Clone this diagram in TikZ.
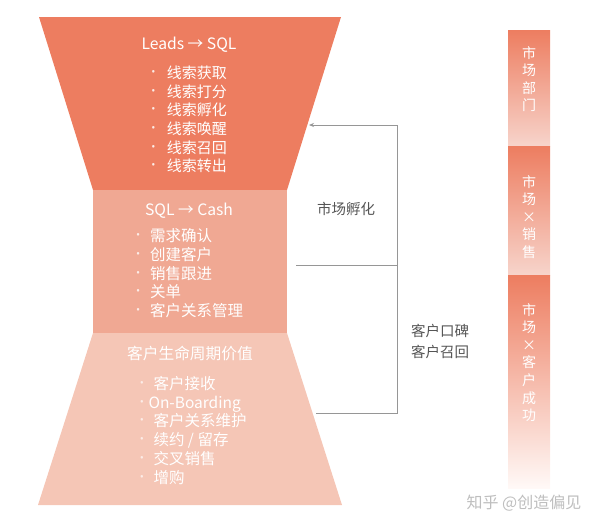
\documentclass[tikz,border=0pt]{standalone}
\usepackage{fontspec}
\setmainfont{Noto Sans CJK SC}
\newfontfamily\latinf{Noto Sans}
\usetikzlibrary{arrows.meta}
\definecolor{ctop}{RGB}{237,125,96}
\definecolor{cmid}{RGB}{240,168,147}
\definecolor{cbot}{RGB}{245,198,182}
\definecolor{cline}{RGB}{150,150,150}
\definecolor{clab}{RGB}{85,85,85}
\definecolor{cbarlow}{RGB}{247,212,203}
\definecolor{cbarwhite}{RGB}{255,249,247}
\definecolor{cwm}{RGB}{190,190,190}
\newcommand\bul[1]{\makebox[0pt][c]{\latinf\fontsize{19}{19}\selectfont\color{white!85!ctop}·}\hspace{#1}}
\begin{document}
\begin{tikzpicture}[x=1pt,y=-1pt,
  title/.style={text=white,inner sep=0pt,font=\fontsize{15.7}{18}\selectfont},
  item/.style={text=white,inner sep=0pt,anchor=west,text height=11.5pt,text depth=1.5pt,font=\fontsize{15}{18}\selectfont},
  itemb/.style={item,font=\fontsize{15.5}{18}\selectfont},
  lab/.style={text=clab,inner sep=0pt,font=\fontsize{14.5}{21}\selectfont,align=center},
  conn/.style={draw=cline,line width=0.8pt},
  vtext/.style={text=white,inner sep=0pt,anchor=north,align=center,font=\fontsize{14}{17.6}\selectfont}]
\useasboundingbox (0,0) rectangle (606,528);
% funnel shapes
\fill[ctop] (39,17) -- (341,17) -- (287,190) -- (93,190) -- cycle;
\fill[cmid] (93,190) rectangle (287,333);
\fill[cbot] (93,333) -- (287,333) -- (342,505) -- (38,505) -- cycle;
% top section
\node[title] (t1) at (189,45) {Leads → SQL};
\node[item] (a1) at (153.3,73.3) {\bul{13.4pt}线索获取};
\node[item] (a2) at (153.3,92) {\bul{13.4pt}线索打分};
\node[item] (a3) at (153.3,110.7) {\bul{13.4pt}线索孵化};
\node[item] (a4) at (153.3,129.4) {\bul{13.4pt}线索唤醒};
\node[item] (a5) at (153.3,148.1) {\bul{13.4pt}线索召回};
\node[item] (a6) at (153.3,166.8) {\bul{13.4pt}线索转出};
% middle section
\node[title] (t2) at (189,211) {SQL → Cash};
\node[itemb] (b1) at (138,236.7) {\bul{12pt}需求确认};
\node[itemb] (b2) at (138,255.4) {\bul{12pt}创建客户};
\node[itemb] (b3) at (138,274.1) {\bul{12pt}销售跟进};
\node[itemb] (b4) at (138,292.8) {\bul{12pt}关单};
\node[itemb] (b5) at (138,311.5) {\bul{12pt}客户关系管理};
% bottom section
\node[title] (t3) at (190,353.5) {客户生命周期价值};
\node[itemb] (d1) at (141.7,384.5) {\bul{11.6pt}客户接收};
\node[itemb] (d2) at (141.7,403.2) {\bul{6.6pt}On-Boarding};
\node[itemb] (d3) at (141.7,421.9) {\bul{11.6pt}客户关系维护};
\node[itemb] (d4) at (141.7,440.6) {\bul{11.6pt}续约 / 留存};
\node[itemb] (d5) at (141.7,459.3) {\bul{11.6pt}交叉销售};
\node[itemb] (d6) at (141.7,478) {\bul{11.6pt}增购};
% connectors
\coordinate (e1) at (309,125);
\coordinate (k1) at (397,125);
\coordinate (e2) at (296,265);
\coordinate (k2) at (397,265);
\coordinate (e3) at (316,413);
\coordinate (k3) at (397,413);
\draw[conn,-{Stealth[length=5pt,width=4pt]}] (k1) -- (e1);
\draw[conn] (k1) -- (k3) -- (e3);
\draw[conn] (k2) -- (e2);
\node[lab] (l1) at (346,209) {市场孵化};
\node[lab] (l2) at (440,341.5) {客户口碑\\客户召回};
% right bars
\shade[top color=ctop,bottom color=cbarlow] (508,30) rectangle (550,146);
\shade[top color=ctop,bottom color=cbarlow] (508,146) rectangle (550,275);
\shade[top color=ctop,bottom color=cbarwhite] (508,275) rectangle (550,488);
\node[vtext] (v1) at (529,46) {市\\场\\部\\门};
\node[vtext] (v2) at (529,175) {市\\场\\×\\销\\售};
\node[vtext] (v3) at (529,303) {市\\场\\×\\客\\户\\成\\功};
% watermark
\node[text=cwm,inner sep=0pt,font=\fontsize{16}{18}\selectfont] (wm) at (524,503) {知乎 @创造偏见};
\end{tikzpicture}
\end{document}
